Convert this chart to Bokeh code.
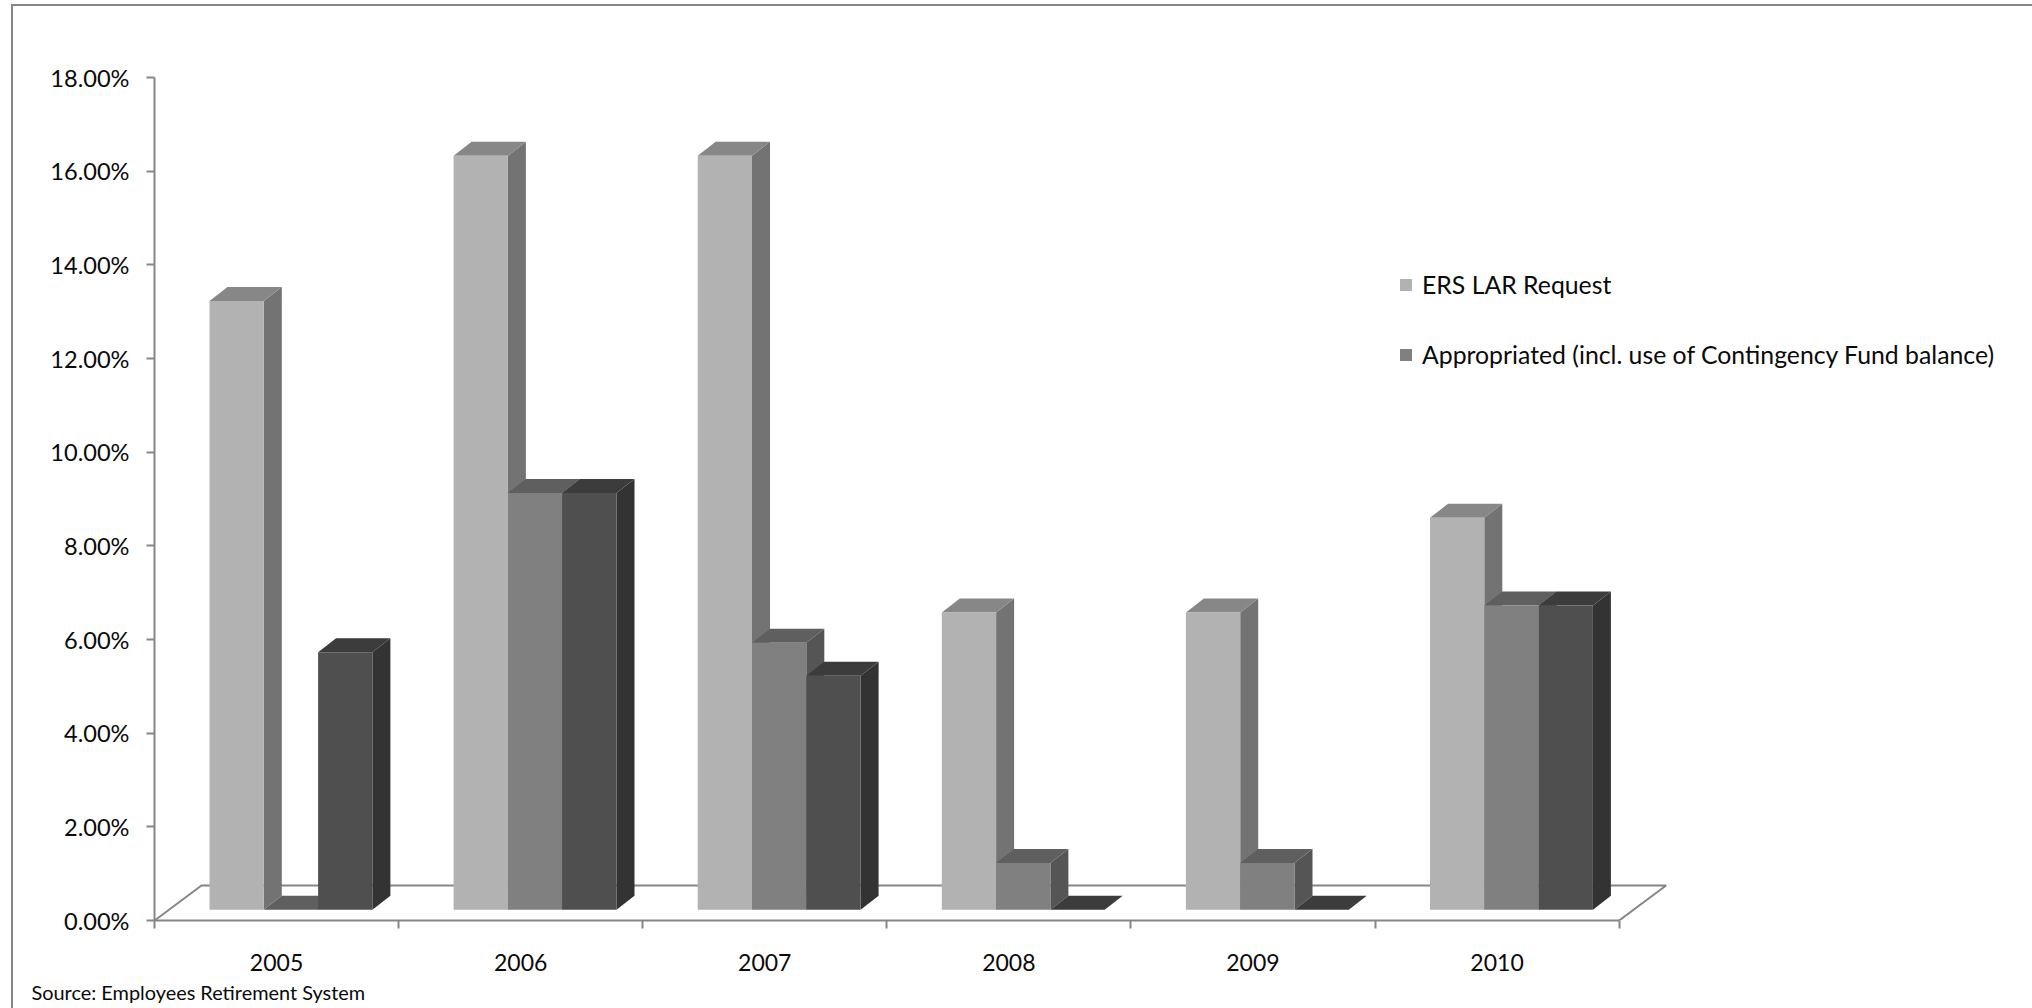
from bokeh.embed import file_html
from bokeh.models import (FixedTicker, InlineStyleSheet, Legend, LegendItem,
                          LinearAxis, Range1d, Title)
from bokeh.plotting import figure
from bokeh.resources import INLINE

# Contribution rates by fiscal year, in percent
years = ["2005", "2006", "2007", "2008", "2009", "2010"]
ers_request = [13.0, 16.1, 16.1, 6.35, 6.35, 8.37]
appropriated = [0.0, 8.9, 5.7, 1.0, 1.0, 6.5]
third_series = [5.5, 8.9, 5.0, 0.0, 0.0, 6.5]
y_ticks = [0, 2, 4, 6, 8, 10, 12, 14, 16, 18]
series_names = ["ERS LAR Request", "Appropriated (incl. use of Contingency Fund balance)"]

# Face, side and top shades of each series
shades = [
    ("#b2b2b2", "#737373", "#878787"),
    ("#808080", "#555555", "#5f5f5f"),
    ("#4f4f4f", "#333333", "#3c3c3c"),
]

FONT = "Lato"
TEXT = "#0a0a0a"
AXIS = "#868686"

# Pixel frame of the value/category axes
LEFT, TOP, BOTTOM = 154, 77, 920
W, H = 2032, 1008
CAT_PX = 244.1
PCT_PX = (BOTTOM - TOP) / 18

# Oblique projection used for the 3D look, in data units
DX = 18 / CAT_PX
DY = 14 / PCT_PX
BASE = 10.7 / PCT_PX
FLOOR_DX = 47 / CAT_PX
FLOOR_DY = 35 / PCT_PX
BAR_W = 54.3 / CAT_PX
BAR_START = 55 / CAT_PX

p = figure(width=W, height=H, output_backend="svg", toolbar_location=None,
           x_range=Range1d(0, (W - LEFT) / CAT_PX), y_range=Range1d(0, 18),
           x_axis_type=None, y_axis_type=None,
           min_border_left=LEFT, min_border_right=0,
           min_border_top=TOP, min_border_bottom=H - BOTTOM)
p.grid.visible = False
p.outline_line_color = None
p.background_fill_color = "white"

# Top and left edges of the chart area, drawn on the page element itself
p.stylesheets = [InlineStyleSheet(css=f"""
:host {{ position: relative; }}
:host::after {{
  content: ""; position: absolute; left: 11px; top: 4px; right: 0; bottom: 0;
  border-left: 2px solid {AXIS}; border-top: 2px solid {AXIS};
  pointer-events: none;
}}
""")]

yaxis = LinearAxis(ticker=FixedTicker(ticks=y_ticks),
                   major_label_overrides={t: f"{t:.2f}%" for t in y_ticks})
xaxis = LinearAxis(ticker=FixedTicker(ticks=[i + 0.5 for i in range(len(years))],
                                      minor_ticks=list(range(len(years) + 1))),
                   major_label_overrides={i + 0.5: y for i, y in enumerate(years)})
xaxis.bounds = (0, len(years))
for ax in (xaxis, yaxis):
    ax.axis_line_color = AXIS
    ax.axis_line_width = 2
    ax.major_tick_line_color = AXIS
    ax.major_tick_line_width = 2
    ax.minor_tick_line_color = AXIS
    ax.minor_tick_line_width = 2
    ax.major_label_text_font = FONT
    ax.major_label_text_color = TEXT
yaxis.major_label_text_font_size = "23.6px"
xaxis.major_label_text_font_size = "23px"
yaxis.major_tick_in = 0
yaxis.major_tick_out = 8
yaxis.minor_tick_out = 0
yaxis.minor_tick_in = 0
yaxis.major_label_standoff = 17
xaxis.major_tick_in = 0
xaxis.major_tick_out = 0
xaxis.minor_tick_in = 0
xaxis.minor_tick_out = 8
xaxis.major_label_standoff = 25
p.add_layout(yaxis, "left")
p.add_layout(xaxis, "below")

# Floor of the 3D box
n = len(years)
p.line([0, FLOOR_DX, n + FLOOR_DX, n], [0, FLOOR_DY, FLOOR_DY, 0],
       line_color=AXIS, line_width=2)

# Bars, painted left to right so each front covers its neighbour's side
values = [ers_request, appropriated, third_series]
legend_items = []
for s, (vals, (face, side, top)) in enumerate(zip(values, shades)):
    for i, v in enumerate(vals):
        x0 = i + BAR_START + s * BAR_W
        x1 = x0 + BAR_W
        y0, y1 = BASE, BASE + v
        p.patch([x1, x1 + DX, x1 + DX, x1], [y0, y0 + DY, y1 + DY, y1],
                fill_color=side, line_color=None)
        p.patch([x0, x0 + DX, x1 + DX, x1], [y1, y1 + DY, y1 + DY, y1],
                fill_color=top, line_color=None)
    fronts = p.quad(left=[i + BAR_START + s * BAR_W for i in range(n)],
                    right=[i + BAR_START + (s + 1) * BAR_W for i in range(n)],
                    bottom=[BASE] * n, top=[BASE + v for v in vals],
                    fill_color=face, line_color=None)
    if s < len(series_names):
        legend_items.append(LegendItem(label=series_names[s], renderers=[fronts]))

legend = Legend(items=legend_items, location=(1398 - LEFT, 551),
                background_fill_alpha=0, border_line_color=None,
                label_text_font=FONT, label_text_font_size="24.8px",
                label_text_color=TEXT, glyph_width=15, glyph_height=15,
                label_standoff=9, spacing=41, padding=0, margin=0)
p.add_layout(legend, "center")

# Source note under the category axis, shifted out past the frame's left edge
p.add_layout(Title(text="Source: Employees Retirement System", align="left",
                   offset=31 - LEFT, standoff=8, text_line_height=1.0, text_font=FONT,
                   text_font_size="19.9px", text_font_style="normal",
                   text_color=TEXT), "below")

open("out.html", "w").write(file_html(p, INLINE))
